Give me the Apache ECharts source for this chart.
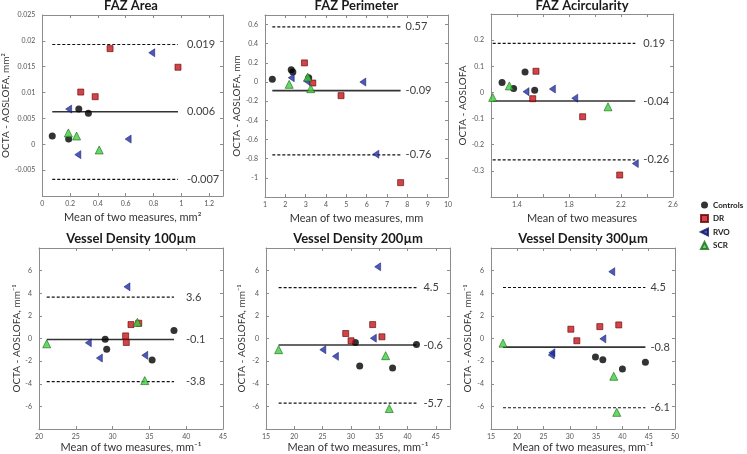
<!DOCTYPE html>
<html>
<head>
<meta charset="utf-8">
<script src="https://cdn.jsdelivr.net/npm/echarts@6/dist/echarts.min.js"></script>
<style>
  html, body { margin: 0; padding: 0; background: #fff; }
  #main { width: 747px; height: 454px; }
</style>
</head>
<body>
<div id="main"></div>
<script>
const groups = ['Controls', 'DR', 'RVO', 'SCR'];

// FAZ Area
const areaControls = [[0.071, 0.0016], [0.189, 0.001], [0.262, 0.0068], [0.331, 0.006]];
const areaDR = [[0.276, 0.0101], [0.380, 0.0092], [0.487, 0.0185], [0.976, 0.0149]];
const areaRVO = [[0.189, 0.0068], [0.255, -0.002], [0.617, 0.001], [0.787, 0.0177]];
const areaSCR = [[0.187, 0.0022], [0.246, 0.0016], [0.409, -0.0011]];
const areaLimits = [0.0193, 0.0063, -0.0068];
const areaLimitLabels = ['0.019', '0.006', '-0.007'];

// FAZ Perimeter
const perimControls = [[1.36, 0.028], [2.29, 0.128], [2.37, 0.104], [3.15, 0.045]];
const perimDR = [[2.94, 0.2], [3.35, -0.01], [4.74, -0.142], [7.67, -1.05]];
const perimRVO = [[2.29, 0.045], [3.04, 0.01], [5.81, 0.0], [6.45, -0.753]];
const perimSCR = [[2.19, -0.024], [3.10, 0.052], [3.25, -0.069]];
const perimLimits = [0.576, -0.09, -0.76];
const perimLimitLabels = ['0.57', '-0.09', '-0.76'];

// FAZ Acircularity
const acircControls = [[1.285, 0.038], [1.374, 0.015], [1.462, 0.078], [1.536, 0.008]];
const acircDR = [[1.546, 0.081], [1.521, -0.024], [1.905, -0.093], [2.19, -0.316]];
const acircRVO = [[1.469, 0.003], [1.672, 0.013], [1.844, -0.022], [2.31, -0.272]];
const acircSCR = [[1.213, -0.019], [1.341, 0.025], [2.10, -0.055]];
const acircLimits = [0.188, -0.033, -0.258];
const acircLimitLabels = ['0.19', '-0.04', '-0.26'];
const acircXLabels = ['1.4', '1.8', '2.2', '2.6'];

// Vessel Density 100um
const vd100Controls = [[28.99, -0.06], [29.2, -0.94], [35.37, -1.9], [38.34, 0.7]];
const vd100DR = [[32.5, 1.23], [31.77, 0.23], [31.86, -0.35], [33.55, 1.35]];
const vd100RVO = [[26.7, -0.38], [28.2, -1.73], [31.95, 4.57], [34.37, -1.49]];
const vd100SCR = [[21.05, -0.47], [33.37, 1.43], [34.37, -3.72]];
const vd100Limits = [3.66, -0.09, -3.81];
const vd100LimitLabels = ['3.6', '-0.1', '-3.8'];

// Vessel Density 200um
const vd200Controls = [[30.79, -0.35], [31.55, -2.42], [37.36, -2.6], [41.58, -0.53]];
const vd200DR = [[29.08, 0.44], [30.02, -0.2], [33.84, 1.23], [35.48, 0.15]];
const vd200RVO = [[25.03, -0.99], [27.26, -1.58], [33.96, 0.03], [34.72, 6.34]];
const vd200SCR = [[17.23, -0.99], [36.13, -1.52], [36.77, -6.19]];
const vd200Limits = [4.5, -0.58, -5.72];
const vd200LimitLabels = ['4.5', '-0.6', '-5.7'];

// Vessel Density 300um
const vd300Controls = [[34.87, -1.64], [36.27, -1.87], [40.0, -2.69], [44.37, -2.11]];
const vd300DR = [[30.19, 0.82], [31.33, -0.2], [35.7, 1.05], [39.3, 1.2]];
const vd300RVO = [[26.58, -1.26], [26.46, -1.46], [36.27, -0.03], [37.97, 5.91]];
const vd300SCR = [[17.28, -0.41], [38.35, -3.34], [38.92, -6.53]];
const vd300Limits = [4.51, -0.76, -6.12];
const vd300LimitLabels = ['4.5', '-0.8', '-6.1'];

const FONT = "Lato, 'Liberation Sans', Arial, sans-serif";

const panels = [
  { title: 'FAZ Area', sets: [areaControls, areaDR, areaRVO, areaSCR], limits: areaLimits, labels: areaLimitLabels,
    grid: { left: 39, top: 15, width: 184, height: 181 }, x: [0, 1.3, 0.2], y: [-0.01, 0.025, 0.005],
    xName: 'Mean of two measures, mm²', yName: 'OCTA - AOSLOFA, mm²', gap: 9, yGap: 20, xGap: 16,
    hideXMax: true, hideYMin: true, hideYMax: false },
  { title: 'FAZ Perimeter', sets: [perimControls, perimDR, perimRVO, perimSCR], limits: perimLimits, labels: perimLimitLabels,
    grid: { left: 265, top: 15, width: 183, height: 182 }, x: [1, 10, 1], y: [-1.2, 0.7, 0.2],
    xName: 'Mean of two measures, mm', yName: 'OCTA - AOSLOFA, mm', gap: 5, yGap: 22, xGap: 16,
    hideXMax: false, hideYMin: true, hideYMax: true },
  { title: 'FAZ Acircularity', sets: [acircControls, acircDR, acircRVO, acircSCR], limits: acircLimits, labels: acircLimitLabels,
    grid: { left: 491, top: 14, width: 182, height: 183 }, x: [1.2, 2.6, 0.2], y: [-0.4, 0.3, 0.1],
    xName: 'Mean of two measures', yName: 'OCTA - AOSLOFA', gap: 8, yGap: 18, xGap: 16,
    hideXMax: false, hideYMin: true, hideYMax: true, xLabels: acircXLabels },
  { title: 'Vessel Density 100µm', sets: [vd100Controls, vd100DR, vd100RVO, vd100SCR], limits: vd100Limits, labels: vd100LimitLabels,
    grid: { left: 39, top: 248, width: 184, height: 184 }, x: [20, 45, 5], y: [-8, 8, 2],
    xName: 'Mean of two measures, mm⁻¹', yName: 'OCTA - AOSLOFA, mm⁻¹', gap: 12, yGap: 11, xGap: 13,
    hideXMax: false, hideYMin: true, hideYMax: true },
  { title: 'Vessel Density 200µm', sets: [vd200Controls, vd200DR, vd200RVO, vd200SCR], limits: vd200Limits, labels: vd200LimitLabels,
    grid: { left: 266, top: 248, width: 184, height: 184 }, x: [15, 47.5, 5], y: [-8, 8, 2],
    xName: 'Mean of two measures, mm⁻¹', yName: 'OCTA - AOSLOFA, mm⁻¹', gap: 7, yGap: 19, xGap: 13,
    hideXMax: true, hideYMin: true, hideYMax: true },
  { title: 'Vessel Density 300µm', sets: [vd300Controls, vd300DR, vd300RVO, vd300SCR], limits: vd300Limits, labels: vd300LimitLabels,
    grid: { left: 491, top: 248, width: 184, height: 184 }, x: [15, 50, 5], y: [-8, 8, 2],
    xName: 'Mean of two measures, mm⁻¹', yName: 'OCTA - AOSLOFA, mm⁻¹', gap: 5, yGap: 18, xGap: 13,
    hideXMax: false, hideYMin: true, hideYMax: true }
];

const markers = [
  { symbol: 'circle', size: 7, itemStyle: { color: '#000' } },
  { symbol: 'rect', size: 6, itemStyle: { color: '#c4161c', borderColor: '#6a0000', borderWidth: 0.8 } },
  { symbol: 'path://M0,5 L10,0 L10,10 Z', size: [6, 8], itemStyle: { color: '#2030a8', borderColor: '#0a1060', borderWidth: 0.6 } },
  { symbol: 'triangle', size: 8, itemStyle: { color: '#3fcf3f', borderColor: '#1a6a1a', borderWidth: 0.8 } }
];

const axisLine = { show: true, onZero: false, lineStyle: { color: '#8c8c8c', width: 1 } };
const tick = { show: true, inside: true, length: 3, lineStyle: { color: '#8c8c8c' } };
const tickLabel = { fontSize: 7, color: '#555', fontFamily: FONT };

const grids = [], xAxes = [], yAxes = [], titles = [], series = [];

panels.forEach((p, i) => {
  grids.push(Object.assign({ containLabel: false }, p.grid));
  titles.push({
    text: p.title, left: p.grid.left + p.grid.width / 2, top: i < 3 ? -1 : 232, textAlign: 'center', padding: 0,
    textStyle: { fontSize: 13, fontWeight: 'bold', color: '#1a1a1a', fontFamily: FONT }
  });
  const xl = p.xLabels;
  xAxes.push({
    type: 'value', gridIndex: i, position: 'bottom', min: p.x[0], max: p.x[1], interval: p.x[2],
    axisLine, axisTick: tick, splitLine: { show: false },
    axisLabel: Object.assign({ margin: 4, showMaxLabel: !p.hideXMax,
      formatter: xl ? (v => xl.indexOf(v.toFixed(1)) >= 0 ? v.toFixed(1) : '') : null }, tickLabel),
    name: p.xName, nameLocation: 'middle', nameGap: p.xGap,
    nameTextStyle: { fontSize: 11, color: '#333', fontFamily: FONT }
  });
  xAxes.push({
    type: 'value', gridIndex: i, position: 'top', min: p.x[0], max: p.x[1], interval: p.x[2],
    axisLine, axisTick: tick, axisLabel: { show: false }, splitLine: { show: false }
  });
  yAxes.push({
    type: 'value', gridIndex: i, position: 'left', min: p.y[0], max: p.y[1], interval: p.y[2],
    axisLine, axisTick: tick, splitLine: { show: false },
    axisLabel: Object.assign({ margin: 7, showMinLabel: !p.hideYMin, showMaxLabel: !p.hideYMax }, tickLabel),
    name: p.yName, nameLocation: 'middle', nameGap: p.yGap,
    nameTextStyle: { fontSize: 10, color: '#333', fontFamily: FONT }
  });
  yAxes.push({
    type: 'value', gridIndex: i, position: 'right', min: p.y[0], max: p.y[1], interval: p.y[2],
    axisLine, axisTick: tick, axisLabel: { show: false }, splitLine: { show: false }
  });

  const xs = [].concat(...p.sets).map(d => d[0]);
  const xmin = Math.min(...xs), xmax = Math.max(...xs);
  p.limits.forEach((lim, k) => {
    series.push({
      type: 'line', xAxisIndex: 2 * i, yAxisIndex: 2 * i, silent: true, z: 2,
      symbol: 'none', data: [[xmin, lim], [xmax, lim]],
      lineStyle: k === 1 ? { color: '#333', width: 1.6, type: 'solid' } : { color: '#111', width: 1.2, type: [3, 2] },
      endLabel: { show: true, formatter: p.labels[k], distance: p.gap, color: '#404040', fontSize: 11, fontFamily: FONT }
    });
  });
  p.sets.forEach((set, g) => {
    series.push({
      name: groups[g], type: 'scatter', xAxisIndex: 2 * i, yAxisIndex: 2 * i, z: 3,
      data: set, symbol: markers[g].symbol, symbolSize: markers[g].size, itemStyle: markers[g].itemStyle
    });
  });
});

const chart = echarts.init(document.getElementById('main'));
chart.setOption({
  animation: false,
  backgroundColor: '#fff',
  title: titles,
  grid: grids,
  xAxis: xAxes,
  yAxis: yAxes,
  legend: {
    data: groups, orient: 'vertical', left: 700, top: 200, padding: 0, itemWidth: 7, itemHeight: 7, itemGap: 3.5,
    selectedMode: false,
    textStyle: { fontSize: 8, fontWeight: 'bold', color: '#222', fontFamily: FONT, lineHeight: 10 }
  },
  series: series
});
</script>
</body>
</html>
